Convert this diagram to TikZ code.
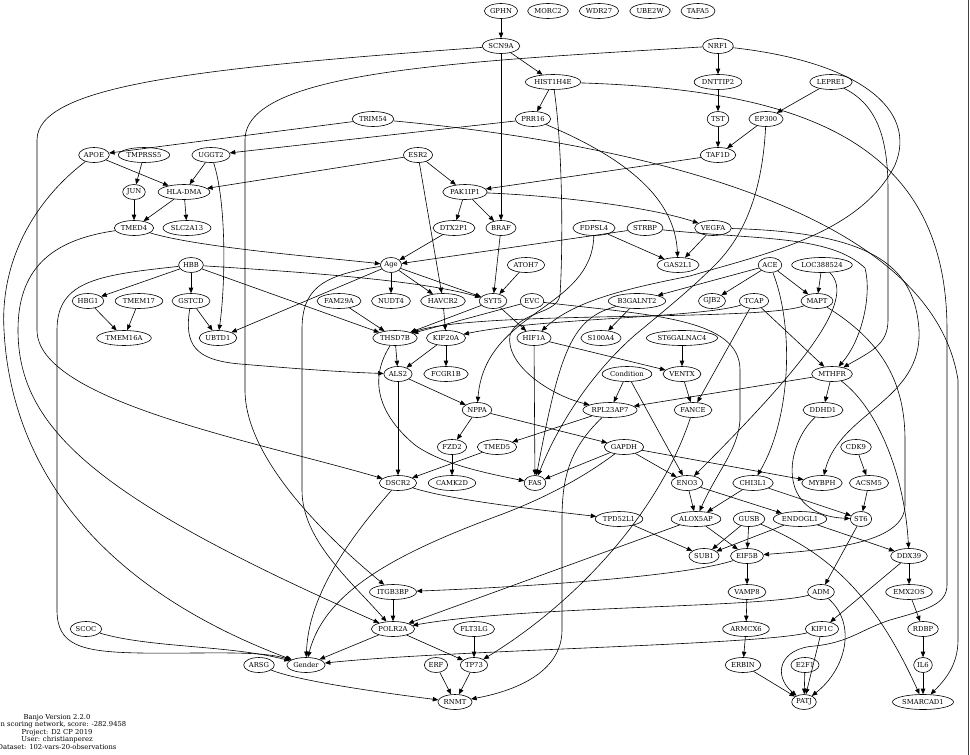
\documentclass[tikz,border=0pt]{standalone}
\usepackage{fontspec}
\setmainfont{DejaVu Serif}
\usetikzlibrary{arrows.meta,shapes.geometric}

\begin{document}
\begin{tikzpicture}[
  x=1pt, y=-1pt,
  font=\fontsize{6.8}{7.5}\selectfont,
  gene/.style={draw, ellipse, line width=0.6pt, inner xsep=0.8pt, inner ysep=0pt, minimum height=15pt},
  arc/.style={-{Triangle[length=5.5pt,width=4.5pt]}, line width=0.6pt},
]
\useasboundingbox (0,0) rectangle (970,755);

% -- Nodes, row by row --
\node[gene] (GPHN) at (501,11) {GPHN};
\node[gene] (MORC2) at (548,11) {MORC2};
\node[gene] (WDR27) at (599,11) {WDR27};
\node[gene] (UBE2W) at (650,11) {UBE2W};
\node[gene] (TAFA5) at (698,11) {TAFA5};

\node[gene] (SCN9A) at (501,46) {SCN9A};
\node[gene] (NRF1) at (718,46) {NRF1};

\node[gene] (HIST1H4E) at (553,82) {HIST1H4E};
\node[gene] (DNTTIP2) at (718,82) {DNTTIP2};
\node[gene] (LEPRE1) at (831,82) {LEPRE1};

\node[gene] (TRIM54) at (373,119) {TRIM54};
\node[gene] (PRR16) at (533,119) {PRR16};
\node[gene] (TST) at (718,119) {TST};
\node[gene] (EP300) at (766,119) {EP300};

\node[gene] (APOE) at (94,155) {APOE};
\node[gene] (TMPRSS5) at (144,155) {TMPRSS5};
\node[gene] (UGGT2) at (211,155) {UGGT2};
\node[gene] (ESR2) at (418,155) {ESR2};
\node[gene] (TAF1D) at (718,155) {TAF1D};

\node[gene] (JUN) at (134,192) {JUN};
\node[gene] (HLADMA) at (184,192) {HLA-DMA};
\node[gene] (PAK1IP1) at (465,192) {PAK1IP1};

\node[gene] (TMED4) at (134,228) {TMED4};
\node[gene] (SLC2A13) at (187,228) {SLC2A13};
\node[gene] (DTX2P1) at (454,228) {DTX2P1};
\node[gene] (BRAF) at (501,228) {BRAF};
\node[gene] (FDPSL4) at (594,228) {FDPSL4};
\node[gene] (STRBP) at (645,228) {STRBP};
\node[gene] (VEGFA) at (713,228) {VEGFA};

\node[gene] (HBB) at (191,265) {HBB};
\node[gene] (Age) at (391,265) {Age};
\node[gene] (ATOH7) at (526,265) {ATOH7};
\node[gene] (GAS2L1) at (678,265) {GAS2L1};
\node[gene] (ACE) at (770,265) {ACE};
\node[gene] (LOC388524) at (822,265) {LOC388524};

\node[gene] (HBG1) at (88,301) {HBG1};
\node[gene] (TMEM17) at (139,301) {TMEM17};
\node[gene] (GSTCD) at (191,301) {GSTCD};
\node[gene] (FAM29A) at (339,301) {FAM29A};
\node[gene] (NUDT4) at (391,301) {NUDT4};
\node[gene] (HAVCR2) at (443,301) {HAVCR2};
\node[gene] (SYT5) at (493,301) {SYT5};
\node[gene] (EVC) at (532,301) {EVC};
\node[gene] (B3GALNT2) at (637,301) {B3GALNT2};
\node[gene] (GJB2) at (712,301) {GJB2};
\node[gene] (TCAP) at (754,301) {TCAP};
\node[gene] (MAPT) at (817,301) {MAPT};

\node[gene] (TMEM16A) at (124,338) {TMEM16A};
\node[gene] (UBTD1) at (218,338) {UBTD1};
\node[gene] (THSD7B) at (395,338) {THSD7B};
\node[gene] (KIF20A) at (446,338) {KIF20A};
\node[gene] (HIF1A) at (534,338) {HIF1A};
\node[gene] (S100A4) at (601,338) {S100A4};
\node[gene] (ST6GALNAC4) at (682,338) {ST6GALNAC4};

\node[gene] (ALS2) at (398,374) {ALS2};
\node[gene] (FCGR1B) at (446,374) {FCGR1B};
\node[gene] (Condition) at (627,374) {Condition};
\node[gene] (VENTX) at (682,374) {VENTX};
\node[gene] (MTHFR) at (832,374) {MTHFR};

\node[gene] (NPPA) at (477,410) {NPPA};
\node[gene] (RPL23AP7) at (610,410) {RPL23AP7};
\node[gene] (FANCE) at (693,410) {FANCE};
\node[gene] (DDHD1) at (823,410) {DDHD1};

\node[gene] (FZD2) at (452,447) {FZD2};
\node[gene] (TMED5) at (497,447) {TMED5};
\node[gene] (GAPDH) at (624,447) {GAPDH};
\node[gene] (CDK9) at (856,447) {CDK9};

\node[gene] (DSCR2) at (398,483) {DSCR2};
\node[gene] (CAMK2D) at (452,483) {CAMK2D};
\node[gene] (FAS) at (535,483) {FAS};
\node[gene] (ENO3) at (687,483) {ENO3};
\node[gene] (CHI3L1) at (753,483) {CHI3L1};
\node[gene] (MYBPH) at (822,483) {MYBPH};
\node[gene] (ACSM5) at (869,483) {ACSM5};

\node[gene] (TPD52L1) at (619,519) {TPD52L1};
\node[gene] (ALOX5AP) at (696,519) {ALOX5AP};
\node[gene] (GUSB) at (749,519) {GUSB};
\node[gene] (ENDOGL1) at (800,519) {ENDOGL1};
\node[gene] (ST6) at (861,519) {ST6};

\node[gene] (SUB1) at (704,556) {SUB1};
\node[gene] (EIF5B) at (747,556) {EIF5B};
\node[gene] (DDX39) at (909,556) {DDX39};

\node[gene] (ITGB3BP) at (393,592) {ITGB3BP};
\node[gene] (VAMP8) at (747,592) {VAMP8};
\node[gene] (ADM) at (821,592) {ADM};
\node[gene] (EMX2OS) at (909,592) {EMX2OS};

\node[gene] (SCOC) at (86,629) {SCOC};
\node[gene] (POLR2A) at (393,629) {POLR2A};
\node[gene] (FLT3LG) at (474,629) {FLT3LG};
\node[gene] (ARMCX6) at (746,629) {ARMCX6};
\node[gene] (KIF1C) at (822,629) {KIF1C};
\node[gene] (RDBP) at (923,629) {RDBP};

\node[gene] (ARSG) at (259,665) {ARSG};
\node[gene] (Gender) at (306,665) {Gender};
\node[gene] (ERF) at (436,665) {ERF};
\node[gene] (TP73) at (474,665) {TP73};
\node[gene] (ERBIN) at (743,665) {ERBIN};
\node[gene] (E2F1) at (805,665) {E2F1};
\node[gene] (IL6) at (923,665) {IL6};

\node[gene] (RNMT) at (455,702) {RNMT};
\node[gene] (PATJ) at (804,702) {PATJ};
\node[gene] (SMARCAD1) at (923,702) {SMARCAD1};

% -- Caption --
\node[align=center, inner sep=0pt] (caption) at (57,732) {Banjo Version 2.2.0\\\hspace*{13pt}n scoring network, score: -282.9458\\Project: D2 CP 2019\\User: christianperez\\Dataset: 102-vars-20-observations};

% -- Top rows --
\draw[arc] (GPHN) -- (SCN9A);
\draw[arc] (SCN9A) -- (HIST1H4E);
\draw[arc] (SCN9A) -- (BRAF);
\draw[arc] (SCN9A) .. controls (200,68) and (37,85) .. (37,140) -- (37,330) .. controls (37,400) and (250,440) .. (DSCR2);
\draw[arc] (NRF1) .. controls (450,62) and (245,72) .. (245,140) -- (245,390) .. controls (245,460) and (330,540) .. (ITGB3BP);
\draw[arc] (NRF1) .. controls (860,62) and (918,110) .. (895,165) .. controls (860,235) and (760,255) .. (690,276) .. controls (630,288) and (575,300) .. (HIF1A);
\draw[arc] (NRF1) -- (DNTTIP2);
\draw[arc] (DNTTIP2) -- (TST);
\draw[arc] (TST) -- (TAF1D);
\draw[arc] (LEPRE1) -- (EP300);
\draw[arc] (EP300) -- (TAF1D);
\draw[arc] (LEPRE1) .. controls (878,105) and (888,140) .. (888,190) -- (888,320) .. controls (888,345) and (870,352) .. (MTHFR);
\draw[arc] (EP300) .. controls (762,200) and (740,240) .. (715,265) .. controls (690,290) and (665,310) .. (635,335) .. controls (595,370) and (560,420) .. (FAS);
\draw[arc] (HIST1H4E) -- (PRR16);
\draw[arc] (HIST1H4E) .. controls (563,150) and (563,250) .. (560,295) .. controls (557,315) and (520,310) .. (510,335) .. controls (505,365) and (550,395) .. (RPL23AP7);
\draw[arc] (HIST1H4E) .. controls (800,90) and (947,140) .. (947,330) -- (947,585) .. controls (947,605) and (925,610) .. (890,620) .. controls (860,630) and (850,642) .. (815,646) .. controls (780,648) and (772,675) .. (PATJ);
\draw[arc] (PRR16) -- (UGGT2);
\draw[arc] (PRR16) .. controls (630,160) and (675,200) .. (GAS2L1);
\draw[arc] (TRIM54) -- (APOE);
\draw[arc] (TRIM54) .. controls (600,140) and (930,200) .. (958,380) -- (958,640) .. controls (958,665) and (945,680) .. (SMARCAD1);

% -- Left block --
\draw[arc] (APOE) -- (HLADMA);
\draw[arc] (TMPRSS5) -- (JUN);
\draw[arc] (UGGT2) -- (HLADMA);
\draw[arc] (UGGT2) .. controls (226,200) and (226,280) .. (UBTD1);
\draw[arc] (JUN) -- (TMED4);
\draw[arc] (HLADMA) -- (TMED4);
\draw[arc] (HLADMA) -- (SLC2A13);
\draw[arc] (ESR2) -- (HLADMA);
\draw[arc] (ESR2) -- (PAK1IP1);
\draw[arc] (ESR2) -- (HAVCR2);
\draw[arc] (TAF1D) -- (PAK1IP1);
\draw[arc] (PAK1IP1) -- (DTX2P1);
\draw[arc] (PAK1IP1) -- (BRAF);
\draw[arc] (PAK1IP1) .. controls (560,196) and (650,207) .. (VEGFA);
\draw[arc] (DTX2P1) -- (Age);
\draw[arc] (TMED4) .. controls (200,248) and (330,258) .. (Age);
\draw[arc] (APOE) .. controls (35,200) and (0,260) .. (4,330) .. controls (10,450) and (80,580) .. (Gender);
\draw[arc] (TMED4) .. controls (50,240) and (18,270) .. (18,330) .. controls (18,430) and (100,500) .. (POLR2A);
\draw[arc] (HBB) .. controls (100,275) and (57,280) .. (57,330) -- (57,610) .. controls (57,645) and (80,652) .. (140,653) .. controls (200,654) and (260,650) .. (Gender);
\draw[arc] (SCOC) .. controls (150,648) and (230,645) .. (Gender);
\draw[arc] (HBB) -- (HBG1);
\draw[arc] (HBB) -- (GSTCD);
\draw[arc] (HBB) -- (THSD7B);
\draw[arc] (HBB) .. controls (300,272) and (420,280) .. (SYT5);
\draw[arc] (HBG1) -- (TMEM16A);
\draw[arc] (TMEM17) -- (TMEM16A);
\draw[arc] (GSTCD) -- (UBTD1);
\draw[arc] (GSTCD) .. controls (184,345) and (195,360) .. (240,364) .. controls (300,369) and (340,372) .. (ALS2);

% -- Age / SYT5 / THSD7B --
\draw[arc] (Age) -- (NUDT4);
\draw[arc] (Age) -- (HAVCR2);
\draw[arc] (Age) -- (SYT5);
\draw[arc] (Age) -- (UBTD1);
\draw[arc] (Age) .. controls (320,275) and (302,290) .. (302,330) -- (302,490) .. controls (302,540) and (350,580) .. (POLR2A);
\draw[arc] (STRBP) -- (Age);
\draw[arc] (ATOH7) -- (SYT5);
\draw[arc] (BRAF) -- (SYT5);
\draw[arc] (SYT5) -- (HIF1A);
\draw[arc] (SYT5) -- (THSD7B);
\draw[arc] (EVC) -- (THSD7B);
\draw[arc] (FAM29A) -- (THSD7B);
\draw[arc] (MAPT) .. controls (760,322) and (480,310) .. (THSD7B);
\draw[arc] (TCAP) .. controls (700,318) and (540,318) .. (KIF20A);
\draw[arc] (HAVCR2) -- (KIF20A);
\draw[arc] (THSD7B) -- (ALS2);
\draw[arc] (KIF20A) -- (ALS2);
\draw[arc] (KIF20A) -- (FCGR1B);
\draw[arc] (THSD7B) .. controls (365,385) and (385,420) .. (415,445) .. controls (440,463) and (480,472) .. (FAS);
\draw[arc] (ALS2) -- (NPPA);
\draw[arc] (ALS2) -- (DSCR2);
\draw[arc] (FDPSL4) .. controls (592,310) and (485,310) .. (NPPA);

% -- Centre --
\draw[arc] (FDPSL4) -- (GAS2L1);
\draw[arc] (VEGFA) -- (GAS2L1);
\draw[arc] (STRBP) .. controls (760,240) and (830,235) .. (865,268) .. controls (872,295) and (862,340) .. (MTHFR);
\draw[arc] (VEGFA) .. controls (860,232) and (910,260) .. (918,320) .. controls (930,400) and (840,410) .. (MYBPH);
\draw[arc] (MAPT) .. controls (880,340) and (905,380) .. (905,440) -- (905,505) .. controls (905,545) and (820,550) .. (EIF5B);
\draw[arc] (ACE) -- (B3GALNT2);
\draw[arc] (ACE) -- (GJB2);
\draw[arc] (ACE) -- (MAPT);
\draw[arc] (LOC388524) -- (MAPT);
\draw[arc] (ACE) .. controls (795,330) and (790,420) .. (CHI3L1);
\draw[arc] (LOC388524) .. controls (858,300) and (800,370) .. (ENO3);
\draw[arc] (B3GALNT2) -- (S100A4);
\draw[arc] (B3GALNT2) .. controls (572,318) and (560,350) .. (FAS);
\draw[arc] (EVC) .. controls (650,315) and (740,318) .. (740,370) -- (740,420) .. controls (738,450) and (718,470) .. (ALOX5AP);
\draw[arc] (HIF1A) -- (FAS);
\draw[arc] (HIF1A) -- (VENTX);
\draw[arc] (ST6GALNAC4) -- (VENTX);
\draw[arc] (VENTX) -- (FANCE);
\draw[arc] (TCAP) -- (FANCE);
\draw[arc] (TCAP) -- (MTHFR);
\draw[arc] (Condition) -- (RPL23AP7);
\draw[arc] (Condition) -- (ENO3);
\draw[arc] (MTHFR) -- (RPL23AP7);
\draw[arc] (MTHFR) -- (DDHD1);
\draw[arc] (MTHFR) .. controls (880,410) and (905,480) .. (DDX39);
\draw[arc] (RPL23AP7) -- (TMED5);
\draw[arc] (RPL23AP7) .. controls (568,450) and (562,480) .. (562,520) -- (562,630) .. controls (562,670) and (520,690) .. (RNMT);
\draw[arc] (FANCE) .. controls (660,510) and (580,600) .. (TP73);
\draw[arc] (NPPA) -- (FZD2);
\draw[arc] (NPPA) -- (GAPDH);
\draw[arc] (FZD2) -- (CAMK2D);
\draw[arc] (TMED5) -- (DSCR2);
\draw[arc] (GAPDH) -- (FAS);
\draw[arc] (GAPDH) -- (ENO3);
\draw[arc] (GAPDH) -- (MYBPH);
\draw[arc] (GAPDH) .. controls (580,480) and (540,500) .. (500,515) .. controls (400,552) and (325,590) .. (Gender);
\draw[arc] (DSCR2) .. controls (330,560) and (308,610) .. (Gender);
\draw[arc] (DSCR2) .. controls (450,500) and (540,510) .. (TPD52L1);

% -- Lower right --
\draw[arc] (TPD52L1) -- (SUB1);
\draw[arc] (ENO3) -- (ALOX5AP);
\draw[arc] (ENO3) -- (ENDOGL1);
\draw[arc] (CHI3L1) -- (ALOX5AP);
\draw[arc] (CHI3L1) -- (ST6);
\draw[arc] (DDHD1) .. controls (785,445) and (775,515) .. (ST6);
\draw[arc] (CDK9) -- (ACSM5);
\draw[arc] (ACSM5) -- (ST6);
\draw[arc] (ST6) -- (ADM);
\draw[arc] (ALOX5AP) -- (EIF5B);
\draw[arc] (ALOX5AP) -- (POLR2A);
\draw[arc] (GUSB) -- (SUB1);
\draw[arc] (GUSB) -- (EIF5B);
\draw[arc] (GUSB) .. controls (820,550) and (870,585) .. (SMARCAD1);
\draw[arc] (ENDOGL1) -- (SUB1);
\draw[arc] (ENDOGL1) -- (DDX39);
\draw[arc] (EIF5B) -- (VAMP8);
\draw[arc] (EIF5B) .. controls (680,578) and (500,588) .. (ITGB3BP);
\draw[arc] (VAMP8) -- (ARMCX6);
\draw[arc] (ARMCX6) -- (ERBIN);
\draw[arc] (ERBIN) -- (PATJ);
\draw[arc] (E2F1) -- (PATJ);
\draw[arc] (ADM) .. controls (760,608) and (520,606) .. (POLR2A);
\draw[arc] (ADM) .. controls (858,625) and (845,670) .. (PATJ);
\draw[arc] (DDX39) -- (EMX2OS);
\draw[arc] (DDX39) -- (KIF1C);
\draw[arc] (EMX2OS) -- (RDBP);
\draw[arc] (RDBP) -- (IL6);
\draw[arc] (IL6) -- (SMARCAD1);
\draw[arc] (KIF1C) -- (PATJ);
\draw[arc] (KIF1C) .. controls (760,645) and (450,650) .. (Gender);

% -- Bottom left --
\draw[arc] (ITGB3BP) -- (POLR2A);
\draw[arc] (POLR2A) -- (Gender);
\draw[arc] (POLR2A) -- (TP73);
\draw[arc] (FLT3LG) -- (TP73);
\draw[arc] (TP73) -- (RNMT);
\draw[arc] (ERF) -- (RNMT);
\draw[arc] (ARSG) .. controls (300,682) and (400,695) .. (RNMT);

% -- Right frame --
\draw[line width=1.2pt, black!75] (968.6,0) -- (968.6,755);
\end{tikzpicture}
\end{document}
